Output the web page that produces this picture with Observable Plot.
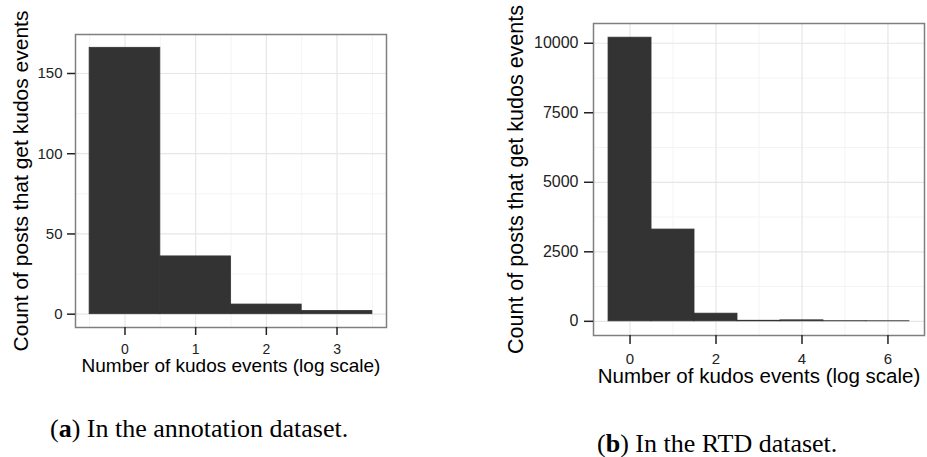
<!DOCTYPE html>
<html>
<head>
<meta charset="utf-8">
<script src="https://cdn.jsdelivr.net/npm/d3@7"></script>
<script src="https://cdn.jsdelivr.net/npm/@observablehq/plot@0.6"></script>
<style>
  html, body { margin: 0; padding: 0; background: #fff; }
  #fig { position: relative; width: 927px; height: 457px; overflow: hidden; background: #fff; }
  .panel { position: absolute; top: 0; }
  .cap { position: absolute; font-family: "Liberation Serif", "Times New Roman", serif; font-size: 26px; line-height: 1; white-space: nowrap; color: #000; }
  .cap b { font-weight: bold; }
  #pa g[aria-label="x-axis tick label"] { font-size: 14px !important; }
  #pa g[aria-label="y-axis tick label"] { font-size: 15px !important; }
  #pb g[aria-label="x-axis tick label"] { font-size: 15px !important; }
  #pb g[aria-label="y-axis tick label"] { font-size: 16px !important; }
</style>
</head>
<body>
<div id="fig">
  <div id="pa" class="panel" style="left:0px"></div>
  <div id="pb" class="panel" style="left:490px"></div>
  <div class="cap" id="capA" style="left:50px; top:416px">(<b>a</b>) In the annotation dataset.</div>
  <div class="cap" id="capB" style="left:597px; top:431px">(<b>b</b>) In the RTD dataset.</div>
</div>
<script>
// ---- Data ----
const xTitle = "Number of kudos events (log scale)";
const yTitle = "Count of posts that get kudos events";

// Panel (a): annotation dataset
const kudosA = [0, 1, 2, 3];
const countsA = [166, 36, 6, 2];
const xTicksA = [0, 1, 2, 3];
const yTicksA = [0, 50, 100, 150];
const xMinorA = [-0.5, 0.5, 1.5, 2.5, 3.5];
const yMinorA = [25, 75, 125];

// Panel (b): RTD dataset
const kudosB = [0, 1, 2, 3, 4, 5, 6];
const countsB = [10200, 3300, 275, 20, 35, 5, 3];
const xTicksB = [0, 2, 4, 6];
const yTicksB = [0, 2500, 5000, 7500, 10000];
const xMinorB = [1, 3, 5];
const yMinorB = [1250, 3750, 6250, 8750];

function panel(cfg) {
  const data = cfg.kudos.map((k, i) => ({k, n: cfg.counts[i]}));
  const xlo = d3.min(cfg.kudos) - 0.5, xhi = d3.max(cfg.kudos) + 0.5;
  const xpad = (xhi - xlo) * 0.05;
  const ymax = d3.max(cfg.counts), ypad = ymax * 0.05;
  const fmt = d => String(d);
  return Plot.plot({
    width: cfg.width, height: cfg.height,
    marginLeft: cfg.ml, marginRight: cfg.mr, marginTop: cfg.mt, marginBottom: cfg.mb,
    x: {domain: [xlo - xpad, xhi + xpad]},
    y: {domain: [-ypad, ymax + ypad]},
    style: {fontFamily: "'Liberation Sans', Arial, Helvetica, sans-serif", background: "transparent", overflow: "visible"},
    marks: [
      Plot.gridX(cfg.xMinor, {stroke: "#f4f4f4", strokeOpacity: 1, strokeWidth: 1}),
      Plot.gridY(cfg.yMinor, {stroke: "#f4f4f4", strokeOpacity: 1, strokeWidth: 1}),
      Plot.gridX(cfg.xTicks, {stroke: "#e6e6e6", strokeOpacity: 1, strokeWidth: 1.2}),
      Plot.gridY(cfg.yTicks, {stroke: "#e6e6e6", strokeOpacity: 1, strokeWidth: 1.2}),
      Plot.rectY(data, {x1: d => d.k - 0.5, x2: d => d.k + 0.5, y1: 0, y2: "n", fill: "#333333", stroke: "#333333", strokeWidth: 0.8}),
      Plot.frame({stroke: "#7f7f7f", strokeWidth: 1.5}),
      Plot.axisX(cfg.xTicks, {tickSize: cfg.tick, tickPadding: cfg.xpadT, tickFormat: fmt, color: "#222", strokeWidth: 1.5, label: null}),
      Plot.axisY(cfg.yTicks, {tickSize: cfg.tick, tickPadding: cfg.ypadT, tickFormat: fmt, color: "#222", strokeWidth: 1.5, label: null}),
      Plot.text([xTitle], {frameAnchor: "bottom", dy: cfg.xdy, fontSize: cfg.tfs, fill: "#000", textAnchor: "middle"}),
      Plot.text([yTitle], {frameAnchor: "left", dx: cfg.ydx, rotate: -90, fontSize: cfg.yfs, fill: "#000", textAnchor: "middle"})
    ]
  });
}

document.getElementById("pa").appendChild(panel({
  kudos: kudosA, counts: countsA, xTicks: xTicksA, yTicks: yTicksA, xMinor: xMinorA, yMinor: yMinorA,
  width: 400, height: 400, ml: 75, mr: 14, mt: 34, mb: 73,
  tick: 8, xpadT: 9, ypadT: 5, tfs: 19, yfs: 21, xdy: 44, ydx: -54
}));

document.getElementById("pb").appendChild(panel({
  kudos: kudosB, counts: countsB, xTicks: xTicksB, yTicks: yTicksB, xMinor: xMinorB, yMinor: yMinorB,
  width: 437, height: 400, ml: 103, mr: 3, mt: 23, mb: 65,
  tick: 9, xpadT: 9, ypadT: 6, tfs: 20.5, yfs: 21.5, xdy: 47, ydx: -77
}));
</script>
</body>
</html>
